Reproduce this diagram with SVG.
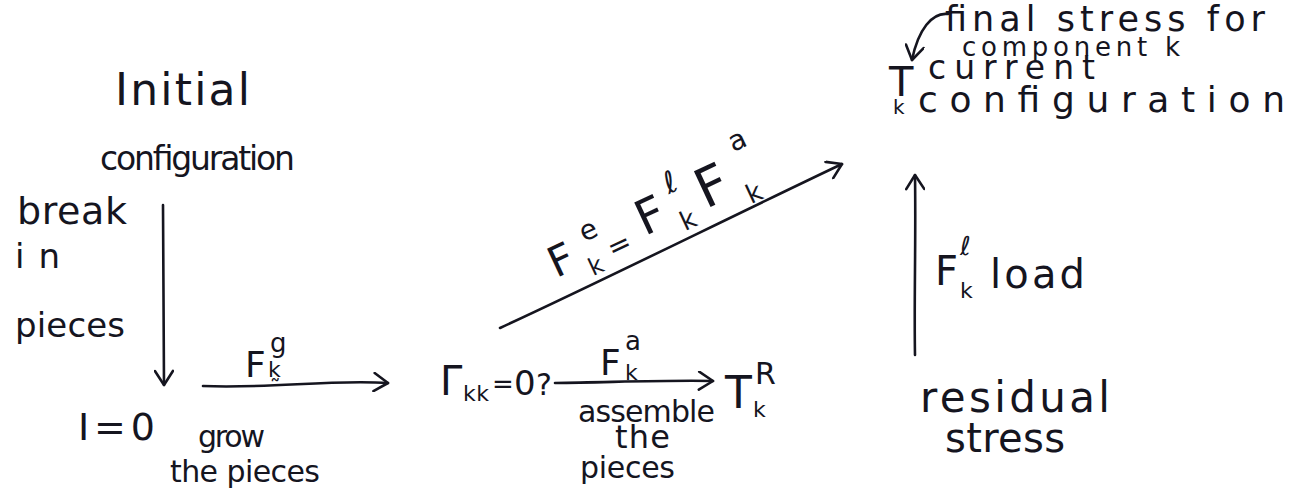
<svg xmlns="http://www.w3.org/2000/svg" width="1290" height="494" viewBox="0 0 1290 494">
<defs>
<style>
text{font-family:"DejaVu Sans","Liberation Sans",sans-serif;fill:#15151f}
.sup{font-size:26px}
.sub{font-size:22px}
.c{text-anchor:middle;dominant-baseline:central}
.ln{fill:none;stroke:#15151f;stroke-width:2.6;stroke-linecap:round;stroke-linejoin:round}
</style>
<marker id="ah" viewBox="-16 -10 18 20" markerWidth="18" markerHeight="20" refX="0" refY="0" orient="auto" markerUnits="userSpaceOnUse">
<path d="M-14,-9 L0,0 L-14,9" fill="none" stroke="#15151f" stroke-width="2.6" stroke-linecap="round" stroke-linejoin="round"/>
</marker>
</defs>
<rect width="1290" height="494" fill="#ffffff"/>
<g id="connectors">
<path class="ln" d="M163 205 L164 385" marker-end="url(#ah)"/>
<path class="ln" d="M203 386 C270 389 330 379 388 383" marker-end="url(#ah)"/>
<path class="ln" d="M555 383 C620 382 670 380 713 381" marker-end="url(#ah)"/>
<path class="ln" d="M500 328 C600 282 720 222 842 164" marker-end="url(#ah)"/>
<path class="ln" d="M915 355 C914 300 916 240 915 175" marker-end="url(#ah)"/>
<path class="ln" d="M948 14 C932 12 918 30 912 60" marker-end="url(#ah)"/>
</g>
<g id="initial">
<text x="115" y="105" font-size="44" textLength="135">Initial</text>
<text x="100" y="170" font-size="33" textLength="195">configuration</text>
</g>
<g id="break-label">
<text x="17" y="224" font-size="38" textLength="110">break</text>
<text x="15" y="268" font-size="34" textLength="45">in</text>
<text x="15" y="337" font-size="34" textLength="110">pieces</text>
</g>
<g id="i0">
<text x="78" y="440" font-size="38" textLength="77">I = 0</text>
</g>
<g id="grow-label">
<text x="245" y="377" font-size="36">F</text>
<text x="270" y="352" class="sup">g</text>
<text x="268" y="377" class="sub">k̰</text>
<text x="198" y="447" font-size="30" textLength="67">grow</text>
<text x="170" y="482" font-size="30" textLength="150">the pieces</text>
</g>
<g id="gamma">
<text x="440" y="395" font-size="40">Γ</text>
<text x="463" y="401" class="sub" textLength="26">kk</text>
<text x="492" y="393" font-size="26">=</text>
<text x="514" y="395" font-size="34">0</text>
<text x="536" y="395" font-size="30">?</text>
</g>
<g id="assemble-label">
<text x="600" y="375" font-size="36">F</text>
<text x="625" y="350" class="sup">a</text>
<text x="625" y="380" class="sub">k</text>
<text x="578" y="422" font-size="30" textLength="137">assemble</text>
<text x="615" y="448" font-size="32" textLength="55">the</text>
<text x="580" y="478" font-size="30" textLength="95">pieces</text>
</g>
<g id="residual">
<text x="725" y="408" font-size="44">T</text>
<text x="755" y="384" font-size="30">R</text>
<text x="753" y="417" class="sub">k</text>
<text x="920" y="412" font-size="42" textLength="190">residual</text>
<text x="945" y="452" font-size="40" textLength="120">stress</text>
</g>
<g id="elastic-label">
<text class="c" font-size="42" transform="translate(561,260) rotate(-25)">F</text>
<text class="c" font-size="28" transform="translate(588,230) rotate(-25)">e</text>
<text class="c" font-size="24" transform="translate(596,266) rotate(-25)">k</text>
<text class="c" font-size="28" transform="translate(619,245) rotate(-25)">=</text>
<text class="c" font-size="48" transform="translate(650,215) rotate(-25)">F</text>
<text class="c" font-size="30" transform="translate(670,182) rotate(-25)">ℓ</text>
<text class="c" font-size="26" transform="translate(688,220) rotate(-25)">k</text>
<text class="c" font-size="54" transform="translate(712,186) rotate(-25)">F</text>
<text class="c" font-size="28" transform="translate(737,140) rotate(-25)">a</text>
<text class="c" font-size="26" transform="translate(754,193) rotate(-25)">k</text>
</g>
<g id="load-label">
<text x="935" y="285" font-size="40">F</text>
<text x="960" y="255" class="sup">ℓ</text>
<text x="960" y="298" class="sub">k</text>
<text x="990" y="288" font-size="40" textLength="95">load</text>
</g>
<g id="current">
<text x="889" y="96" font-size="40">T</text>
<text x="893" y="114" font-size="20">k</text>
<text x="928" y="79" font-size="33" textLength="167">current</text>
<text x="918" y="112" font-size="36" textLength="367">configuration</text>
<text x="945" y="31" font-size="35" textLength="320">final stress for</text>
<text x="962" y="56" font-size="26" textLength="218">component k</text>
</g>
</svg>
